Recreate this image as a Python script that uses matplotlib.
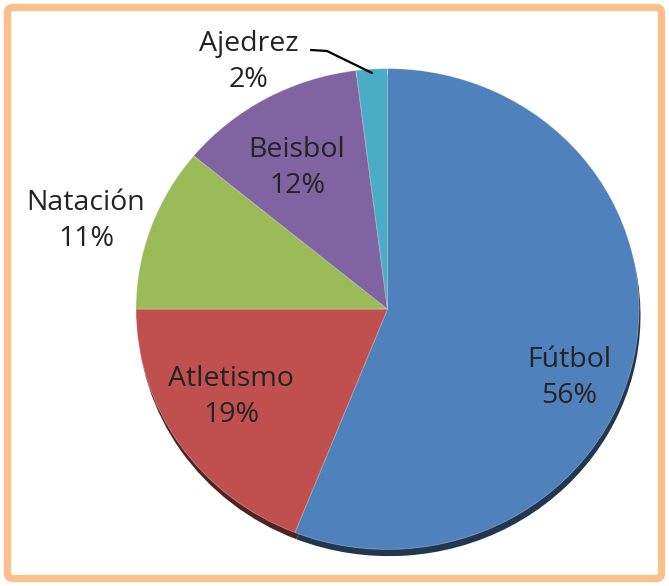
import matplotlib.pyplot as plt
import matplotlib.colors as mcolors
from matplotlib.patches import FancyBboxPatch

plt.rcParams['font.family'] = ['Open Sans', 'DejaVu Sans']

deportes = ['Fútbol', 'Atletismo', 'Natación', 'Beisbol', 'Ajedrez']
porcentajes = [56, 19, 11, 12, 2]
colores = ['#4F81BD', '#C0504D', '#9BBB59', '#8064A2', '#4BACC6']

W, H = 669, 586
k = 0.956  # vertical squash of the pie (tilted look)

fig = plt.figure(figsize=(W / 100, H / 100), dpi=100)
ax = fig.add_axes([0, 0, 1, 1])

cx, cy, r = 387.5, (H - 309) / k, 251.5

# dark rim underneath to mimic the 3D edge
oscuros = [tuple(c * 0.42 for c in mcolors.to_rgb(col)) for col in colores]
ax.pie(porcentajes, colors=oscuros, startangle=90, counterclock=False,
       center=(cx + 1.5, cy - 7), radius=r, wedgeprops=dict(linewidth=0))
ax.pie(porcentajes, colors=colores, startangle=90, counterclock=False,
       center=(cx, cy), radius=r,
       wedgeprops=dict(linewidth=0.6, edgecolor=(1, 1, 1, 0.35)))

ax.set_aspect('auto')
ax.set_xlim(0, W)
ax.set_ylim(0, H / k)
ax.axis('off')

# label centres in pixels (x, y from top)
pos_etiquetas = [(569, 378), (231, 397), (86, 221), (297, 168), (249, 62)]
for nombre, p, (x, y) in zip(deportes, porcentajes, pos_etiquetas):
    fig.text(x / W, 1 - y / H, f'{nombre}\n{p}%', ha='center', va='center',
             fontsize=20.5, color='#232323', linespacing=1.36)

# leader line for Ajedrez
ax.plot([311, 327, 372], [(H - 50) / k, (H - 51) / k, (H - 73) / k],
        color='black', lw=1.6, solid_capstyle='round')

marco = FancyBboxPatch((7.5 / W, 7.5 / H), (W - 15) / W, (H - 15) / H,
                       boxstyle='round,pad=0,rounding_size=0.008',
                       transform=fig.transFigure, fill=False,
                       edgecolor='#FBBF8C', linewidth=5.2)
fig.patches.append(marco)

fig.savefig('out.png', dpi=100)
